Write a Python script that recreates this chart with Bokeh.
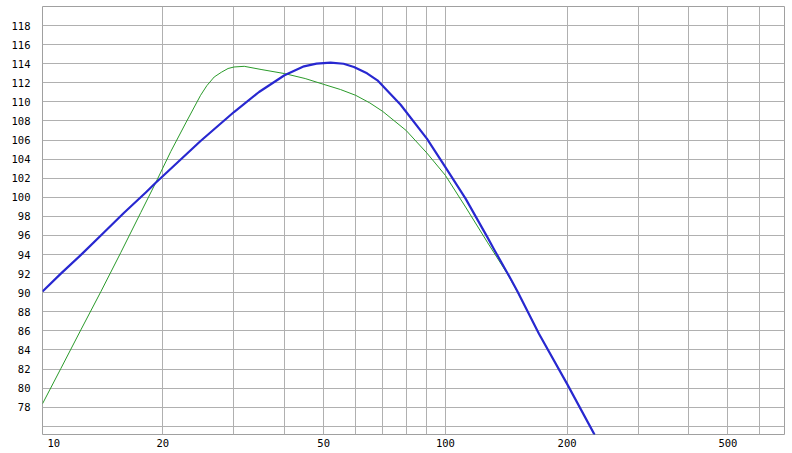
from bokeh.plotting import figure
from bokeh.models import Range1d, FixedTicker, CustomJSTickFormatter
from bokeh.embed import file_html
from bokeh.resources import INLINE

# ---- data ----
blue_x = [10.08, 11.19, 12.66, 14.32, 16.04, 18.15, 19.21, 23.4, 24.8, 30, 34.6, 40,
          44.7, 48, 52.0, 56, 59.4, 64, 67.9, 77.5, 90, 100, 112.2, 127.0, 132.4, 145.0,
          150.7, 170.4, 200, 234]
blue_y = [90.13, 92.0, 94.12, 96.33, 98.38, 100.5, 101.53, 104.9, 105.9, 108.94, 111.04, 112.79,
          113.73, 114.02, 114.12, 114.0, 113.66, 113.0, 112.26, 109.7, 106.15, 103.17, 99.86, 95.83, 94.43, 91.47,
          90.15, 85.7, 80.45, 75.1]

green_x = [10.08, 11.19, 12.54, 14.05, 15.74, 17.64, 19.21, 20.93, 22.8, 24.8, 25.7, 26.8, 27.9, 29, 30,
           31.8, 35, 40, 45, 50, 55, 60, 65, 70, 80, 90, 100, 112.2, 127.0, 142.3, 150.7, 170.4, 200, 234]
green_y = [78.36, 82.05, 86.1, 90.1, 94.2, 98.4, 101.53, 104.8, 107.8, 110.69, 111.7, 112.61, 113.1, 113.5, 113.66,
           113.73, 113.4, 112.97, 112.45, 111.84, 111.3, 110.69, 109.9, 109.0, 107.0, 104.64, 102.3, 98.98, 95.3, 91.99,
           90.1, 85.7, 80.45, 75.1]

x_label_ticks = [20, 50, 100, 200, 500]
x_grid_ticks = [20, 30, 40, 50, 60, 70, 80, 90, 100, 200, 300, 400, 500, 600]
y_ticks = list(range(76, 121, 2))
X_MIN, X_MAX = 10.08, 690
Y_MIN, Y_MAX = 75.14, 120

FIRST_LABEL_POS = 10.75  # where the "10" label sits (shifted inside the frame)

p = figure(width=792, height=453, x_axis_type="log", output_backend="svg",
           toolbar_location=None,
           x_range=Range1d(X_MIN, X_MAX), y_range=Range1d(Y_MIN, Y_MAX),
           min_border_left=42, min_border_right=8, min_border_top=6, min_border_bottom=19)

p.background_fill_color = "white"
p.border_fill_color = "white"
p.outline_line_color = "#a0a0a0"
p.outline_line_width = 1

# grids
p.xgrid.ticker = FixedTicker(ticks=x_grid_ticks)
p.ygrid.ticker = FixedTicker(ticks=y_ticks)
for g in (p.xgrid, p.ygrid):
    g.grid_line_color = "#b0b0b0"
    g.grid_line_width = 1

# axes
FONT = "DejaVu Sans Mono"
xa = p.xaxis[0]
xa.ticker = FixedTicker(ticks=[FIRST_LABEL_POS] + x_label_ticks, minor_ticks=[])
xa.formatter = CustomJSTickFormatter(code="""
    if (Math.abs(tick - %f) < 1e-6) return '10';
    return Math.round(tick).toString();
""" % FIRST_LABEL_POS)
ya = p.yaxis[0]
ya.ticker = FixedTicker(ticks=y_ticks, minor_ticks=[])
ya.formatter = CustomJSTickFormatter(code="""
    if (tick < 77 || tick > 119) return '';
    const s = Math.round(tick).toString();
    return s.length < 3 ? '\\u00a0' + s : s;
""")
for ax in (xa, ya):
    ax.axis_line_color = None
    ax.major_tick_line_color = None
    ax.minor_tick_line_color = None
    ax.major_tick_out = 0
    ax.major_tick_in = 0
    ax.minor_tick_out = 0
    ax.minor_tick_in = 0
    ax.major_label_text_font = FONT
    ax.major_label_text_font_size = "10.5px"
    ax.major_label_text_color = "#000000"
xa.major_label_standoff = 4
ya.major_label_standoff = 12

p.line(green_x, green_y, line_color="#2a9a2a", line_width=1, line_join="round")
p.line(blue_x, blue_y, line_color="#2828d0", line_width=2.2, line_join="round")

open("out.html", "w").write(file_html(p, INLINE))
